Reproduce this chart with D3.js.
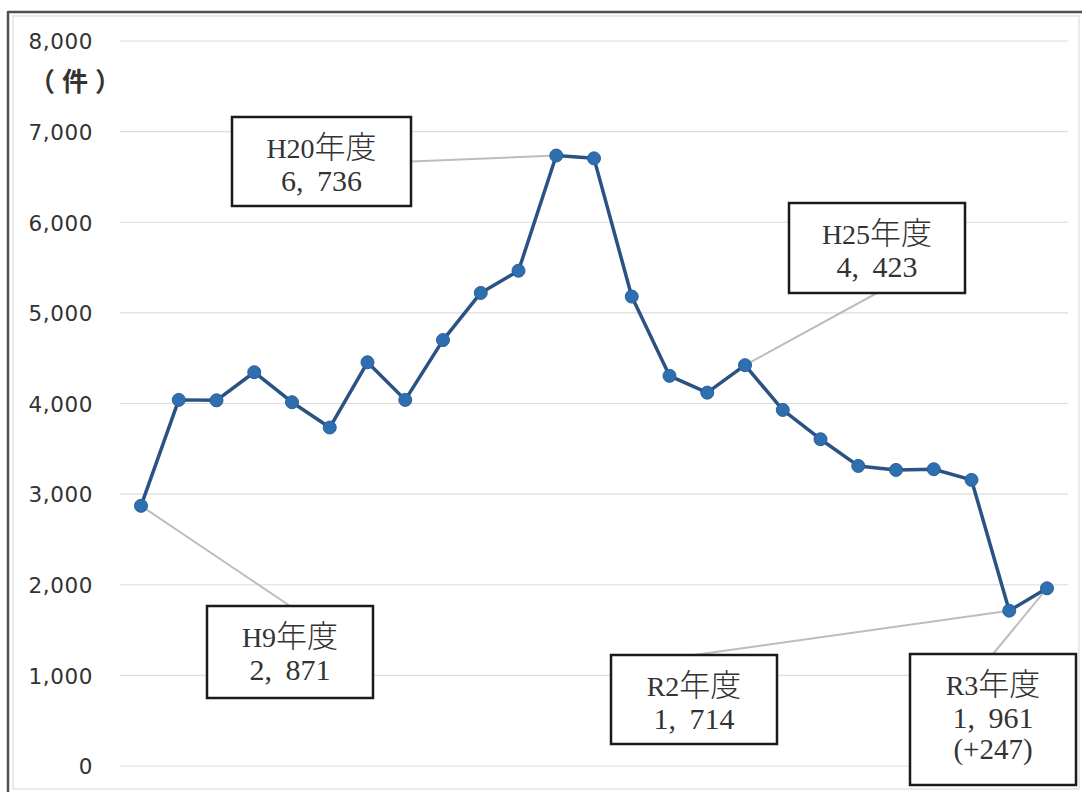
<!DOCTYPE html>
<html>
<head>
<meta charset="utf-8">
<script src="https://cdn.jsdelivr.net/npm/d3@7"></script>
<style>
  html, body { margin: 0; padding: 0; background: #fff; }
  svg { display: block; }
</style>
</head>
<body>
<svg id="chart" width="1082" height="792"></svg>
<script>
// Fiscal years, Heisei 9 through Reiwa 3
const years = ["H9","H10","H11","H12","H13","H14","H15","H16","H17","H18","H19","H20",
  "H21","H22","H23","H24","H25","H26","H27","H28","H29","H30","R1","R2","R3"];

// Number of cases (件) per fiscal year
const counts = [2871, 4040, 4035, 4345, 4014, 3735, 4455, 4040, 4700, 5220, 5465, 6736,
  6705, 5180, 4305, 4120, 4423, 3929, 3606, 3311, 3267, 3275, 3157, 1714, 1961];

// Y-axis ticks
const yTicks = [0, 1000, 2000, 3000, 4000, 5000, 6000, 7000, 8000];
const unitLabel = "（件）";

// Called-out years and the change note shown under the last one
const calloutYears = ["H20", "H25", "H9", "R2", "R3"];
const calloutNotes = { R3: "(+247)" };

// Callout box placement: box rectangle and where the leader line leaves it
const calloutLayout = {
  H20: { x: 232, y: 117, w: 179, h: 89, attach: "right" },
  H25: { x: 789, y: 203, w: 176, h: 90, attach: "bottom" },
  H9:  { x: 207, y: 606, w: 166, h: 92, attach: "top" },
  R2:  { x: 611, y: 655, w: 166, h: 89, attach: "top" },
  R3:  { x: 910, y: 654, w: 166, h: 131, attach: "top" }
};

const svg = d3.select("#chart");

// Frame
svg.append("rect").attr("x", 0).attr("y", 0).attr("width", 1082).attr("height", 792).attr("fill", "#fff");
svg.append("rect").attr("x", 13).attr("y", 16).attr("width", 1066).attr("height", 773)
  .attr("fill", "none").attr("stroke", "#e4e4e4").attr("stroke-width", 1.5);
svg.append("line").attr("x1", 8).attr("x2", 1082).attr("y1", 12).attr("y2", 12)
  .attr("stroke", "#505050").attr("stroke-width", 2.5);
svg.append("line").attr("x1", 8).attr("x2", 8).attr("y1", 11).attr("y2", 792)
  .attr("stroke", "#505050").attr("stroke-width", 2.5);

const x = d3.scalePoint().domain(years).range([141, 1047]);
const y = d3.scaleLinear().domain([0, 8000]).range([766, 41]);

// Gridlines
svg.append("g").selectAll("line").data(yTicks).join("line")
  .attr("x1", 120).attr("x2", 1068)
  .attr("y1", d => y(d)).attr("y2", d => y(d))
  .attr("stroke", "#dcdcdc").attr("stroke-width", 1.2);

// Y axis labels
const yAxis = d3.axisLeft(y).tickValues(yTicks).tickFormat(d3.format(",")).tickSize(0).tickPadding(0);
const yg = svg.append("g").attr("transform", "translate(93,0)").call(yAxis);
yg.select(".domain").remove();
yg.selectAll("text")
  .attr("font-family", "'DejaVu Sans', sans-serif")
  .attr("font-size", 21.5)
  .attr("fill", "#333")
  .attr("letter-spacing", 0.6)
  .attr("dy", "0.36em");

// Unit label: parentheses spaced out around the character
const unitText = svg.append("text").attr("x", 75).attr("y", 91)
  .attr("text-anchor", "middle")
  .attr("font-family", "'Noto Sans CJK JP', sans-serif")
  .attr("font-weight", 700)
  .attr("font-size", 26)
  .attr("fill", "#333");
Array.from(unitLabel).forEach((ch, i) => {
  unitText.append("tspan").attr("dx", i === 0 ? 0 : 7).text(ch);
});

const data = years.map((yr, i) => ({ year: yr, value: counts[i] }));
const byYear = new Map(data.map(d => [d.year, d]));

// Leader lines from callout boxes to points
const callouts = calloutYears.map(yr => {
  const b = calloutLayout[yr];
  const d = byYear.get(yr);
  let ax, ay;
  if (b.attach === "right") { ax = b.x + b.w; ay = b.y + b.h / 2; }
  else if (b.attach === "bottom") { ax = b.x + b.w / 2; ay = b.y + b.h; }
  else { ax = b.x + b.w / 2; ay = b.y; }
  return { ...d, box: b, ax, ay };
});

svg.append("g").selectAll("line").data(callouts).join("line")
  .attr("x1", d => d.ax).attr("y1", d => d.ay)
  .attr("x2", d => x(d.year)).attr("y2", d => y(d.value))
  .attr("stroke", "#bdbdbd").attr("stroke-width", 2);

// Series line
const line = d3.line().x(d => x(d.year)).y(d => y(d.value));
svg.append("path").datum(data)
  .attr("d", line)
  .attr("fill", "none")
  .attr("stroke", "#2a5283")
  .attr("stroke-width", 3.5)
  .attr("stroke-linejoin", "round");

// Markers
svg.append("g").selectAll("circle").data(data).join("circle")
  .attr("cx", d => x(d.year)).attr("cy", d => y(d.value))
  .attr("r", 6.5)
  .attr("fill", "#2e6fb0")
  .attr("stroke", "#2a5f9a")
  .attr("stroke-width", 1);

// Callout boxes
const fmt = v => d3.format(",")(v).replace(",", ", ");
const boxG = svg.append("g").selectAll("g").data(callouts).join("g");
boxG.append("rect")
  .attr("x", d => d.box.x).attr("y", d => d.box.y)
  .attr("width", d => d.box.w).attr("height", d => d.box.h)
  .attr("fill", "#fff").attr("stroke", "#1a1a1a").attr("stroke-width", 2.5);

boxG.each(function(d) {
  const g = d3.select(this);
  const cx = d.box.x + d.box.w / 2;
  const base = d.box.y + 41;
  const t1 = g.append("text").attr("x", cx).attr("y", base)
    .attr("text-anchor", "middle")
    .attr("font-family", "'Liberation Serif', 'Noto Sans CJK JP', serif")
    .attr("font-size", 28).attr("fill", "#333");
  t1.append("tspan").text(d.year);
  t1.append("tspan").attr("font-family", "'Noto Sans CJK JP', sans-serif")
    .attr("font-weight", 300).attr("font-size", 31).text("年度");
  g.append("text").attr("x", cx).attr("y", base + 33)
    .attr("text-anchor", "middle")
    .attr("font-family", "'Liberation Serif', serif")
    .attr("font-size", 30).attr("fill", "#333")
    .attr("word-spacing", 6)
    .text(fmt(d.value));
  if (calloutNotes[d.year]) {
    g.append("text").attr("x", cx).attr("y", base + 64)
      .attr("text-anchor", "middle")
      .attr("font-family", "'Liberation Serif', serif")
      .attr("font-size", 29).attr("fill", "#333")
      .text(calloutNotes[d.year]);
  }
});
</script>
</body>
</html>
